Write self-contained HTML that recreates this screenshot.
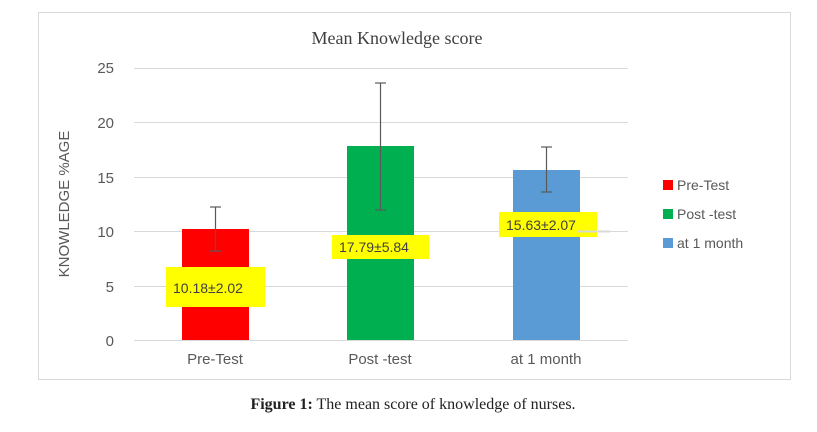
<!DOCTYPE html>
<html><head><meta charset="utf-8"><style>
body{margin:0;background:#fff;width:817px;height:427px;overflow:hidden}
</style></head><body>
<svg width="817" height="427" viewBox="0 0 817 427" xmlns="http://www.w3.org/2000/svg">
<rect x="38.5" y="12.5" width="752" height="367" fill="#fff" stroke="#d9d9d9"/>
<text x="397" y="44" text-anchor="middle" font-family="Liberation Serif, serif" font-size="18" fill="#404040">Mean Knowledge score</text>
<g stroke="#d9d9d9" stroke-width="1">
<line x1="134" x2="628" y1="68.5" y2="68.5"/>
<line x1="134" x2="628" y1="122.5" y2="122.5"/>
<line x1="134" x2="628" y1="177.5" y2="177.5"/>
<line x1="134" x2="628" y1="231.5" y2="231.5"/>
<line x1="134" x2="628" y1="286.5" y2="286.5"/>
<line x1="134" x2="628" y1="340.5" y2="340.5"/>
</g>
<g font-family="Liberation Sans, sans-serif" font-size="15" fill="#595959" text-anchor="end">
<text x="114" y="73">25</text><text x="114" y="128">20</text><text x="114" y="183">15</text>
<text x="114" y="237">10</text><text x="114" y="292">5</text><text x="114" y="346">0</text>
</g>
<text transform="translate(69,204) rotate(-90)" text-anchor="middle" font-family="Liberation Sans, sans-serif" font-size="15" fill="#595959">KNOWLEDGE %AGE</text>
<rect x="182" y="229" width="67" height="111" fill="#ff0000"/>
<rect x="347" y="146" width="67" height="194" fill="#00b050"/>
<rect x="513" y="170" width="67" height="170" fill="#5b9bd5"/>
<g stroke="#595959" stroke-width="1.2">
<line x1="215.5" x2="215.5" y1="207" y2="251"/><line x1="210" x2="221" y1="207" y2="207"/><line x1="210" x2="221" y1="251" y2="251"/>
<line x1="380.5" x2="380.5" y1="83" y2="210"/><line x1="375" x2="386" y1="83" y2="83"/><line x1="375" x2="386" y1="210" y2="210"/>
<line x1="546.5" x2="546.5" y1="147" y2="192"/><line x1="541" x2="552" y1="147" y2="147"/><line x1="541" x2="552" y1="192" y2="192"/>
</g>
<rect x="166" y="267" width="99" height="40" fill="#ffff00"/>
<rect x="332" y="235" width="97" height="24" fill="#ffff00"/>
<rect x="499" y="212" width="98" height="25" fill="#ffff00"/>
<line x1="578" x2="610" y1="231.5" y2="231.5" stroke="#d9d9d9" stroke-width="2"/>
<g font-family="Liberation Sans, sans-serif" font-size="14" fill="#404040">
<text x="173" y="293">10.18±2.02</text>
<text x="339" y="252">17.79±5.84</text>
<text x="506" y="230">15.63±2.07</text>
</g>
<g font-family="Liberation Sans, sans-serif" font-size="15" fill="#595959" text-anchor="middle">
<text x="215" y="364">Pre-Test</text><text x="380" y="364">Post -test</text><text x="546" y="364">at 1 month</text>
</g>
<rect x="663" y="180" width="10" height="10" fill="#ff0000"/>
<rect x="663" y="209" width="10" height="10" fill="#00b050"/>
<rect x="663" y="238" width="10" height="10" fill="#5b9bd5"/>
<g font-family="Liberation Sans, sans-serif" font-size="14" fill="#595959">
<text x="677" y="190">Pre-Test</text><text x="677" y="219">Post -test</text><text x="677" y="248">at 1 month</text>
</g>
<text x="413" y="409" text-anchor="middle" font-family="Liberation Serif, serif" font-size="16" fill="#222"><tspan font-weight="bold">Figure 1:</tspan> The mean score of knowledge of nurses.</text>
</svg>
</body></html>
